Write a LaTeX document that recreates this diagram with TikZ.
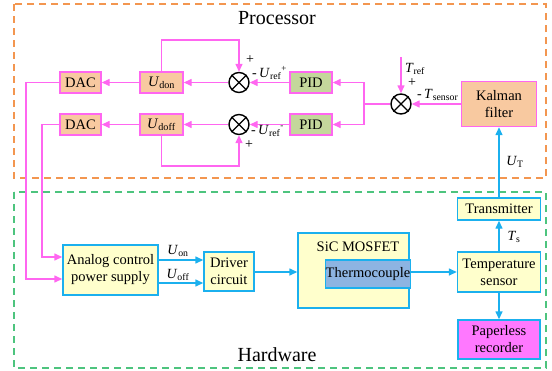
\documentclass[tikz,border=0pt]{standalone}
\usepackage{fontspec}
\setmainfont{Liberation Serif}
\usetikzlibrary{arrows.meta}
\definecolor{pk}{RGB}{255,102,240}
\definecolor{peach}{RGB}{248,201,160}
\definecolor{pidg}{RGB}{196,215,155}
\definecolor{ylw}{RGB}{255,255,204}
\definecolor{cy}{RGB}{27,176,238}
\definecolor{tcb}{RGB}{141,180,226}
\definecolor{mag}{RGB}{255,120,255}
\definecolor{odash}{RGB}{243,150,80}
\definecolor{gdash}{RGB}{77,196,126}
\newcommand{\sym}[2]{\textit{#1}$_{\mathrm{#2}}$}
\begin{document}
\begin{tikzpicture}[x=1pt,y=-1pt,
  txt/.style={font=\fontsize{14.5}{17}\selectfont},
  pbox/.style={txt,draw=pk,line width=1.4pt,inner sep=0pt,align=center},
  cbox/.style={txt,draw=cy,line width=1.4pt,inner sep=0pt,align=center},
  pl/.style={draw=pk,line width=1.4pt},
  pa/.style={pl,-{Triangle[length=8pt,width=7pt]}},
  cl/.style={draw=cy,line width=1.4pt},
  ca/.style={cl,-{Triangle[length=8pt,width=7pt]}},
  sumc/.style={circle,draw,line width=1.4pt,minimum size=20pt,inner sep=0pt},
  lbl/.style={font=\fontsize{14}{16}\selectfont,inner sep=0pt}]
\useasboundingbox (0,0) rectangle (552,370);
% frames
\draw[odash,line width=1.3pt,dash pattern=on 7pt off 5pt] (14,4) rectangle (546,178);
\draw[gdash,line width=1.3pt,dash pattern=on 7pt off 5pt] (14,192) rectangle (546,368);
\node[font=\fontsize{20}{22}\selectfont] (proc) at (277,18) {Processor};
\node[font=\fontsize{20}{22}\selectfont] (hw) at (277,355) {Hardware};
% processor blocks
\node[pbox,fill=peach,minimum width=41pt,minimum height=21pt] (dac1) at (80.5,82.5) {DAC};
\node[pbox,fill=peach,minimum width=41pt,minimum height=21pt] (dac2) at (80.5,124.5) {DAC};
\node[pbox,fill=peach,minimum width=43pt,minimum height=21pt] (udon) at (161.5,82.5) {\sym{U}{don}};
\node[pbox,fill=peach,minimum width=43pt,minimum height=21pt] (udoff) at (161.5,124.5) {\sym{U}{doff}};
\node[sumc] (o1) at (239,82.5) {};
\node[sumc] (o2) at (239,124.5) {};
\node[pbox,fill=pidg,minimum width=42pt,minimum height=21pt] (pid1) at (311,82.5) {PID};
\node[pbox,fill=pidg,minimum width=42pt,minimum height=21pt] (pid2) at (311,124.5) {PID};
\node[sumc] (o3) at (401,104) {};
\node[pbox,fill=peach,minimum width=75pt,minimum height=45pt] (kal) at (499,104) {Kalman\\filter};
\foreach \o in {o1,o2,o3}{
  \draw[line width=1.4pt] (\o.north west) -- (\o.south east) (\o.north east) -- (\o.south west);}
% hardware blocks
\node[cbox,fill=ylw,minimum width=95pt,minimum height=50pt] (ana) at (110.5,270) {Analog control\\power supply};
\node[cbox,fill=ylw,minimum width=50pt,minimum height=39pt] (drv) at (229,271.5) {Driver\\circuit};
\node[cbox,fill=ylw,minimum width=111pt,minimum height=75pt] (sic) at (353.5,270.5) {};
\node[txt,inner sep=0pt] (sictxt) at (358,247) {SiC MOSFET};
\node[cbox,fill=tcb,minimum width=82pt,minimum height=28pt] (tc) at (368,274) {Thermocouple};
\node[cbox,fill=ylw,minimum width=83pt,minimum height=40pt] (temp) at (499,272) {Temperature\\sensor};
\node[cbox,fill=ylw,minimum width=83pt,minimum height=22pt] (trans) at (499,209) {Transmitter};
\node[cbox,fill=mag,minimum width=82pt,minimum height=39pt] (pap) at (499,339.5) {Paperless\\recorder};
% coordinates
\coordinate (t1) at (239,40);
\coordinate (t2) at (239,166);
\coordinate (a1) at (26,279);
\coordinate (a2) at (42,257);
\coordinate (br) at (364,104);
\coordinate (tr) at (401,57);
\coordinate (yon) at (0,260);
\coordinate (yoff) at (0,283);
\coordinate (ym) at (0,272);
% pink connectors
\draw[pa] (o1.west) -- (udon.east);
\draw[pa] (udon.west) -- (dac1.east);
\draw[pa] (o2.west) -- (udoff.east);
\draw[pa] (udoff.west) -- (dac2.east);
\draw[pa] (udon.north) |- (t1) -- (o1.north);
\draw[pa] (udoff.south) |- (t2) -- (o2.south);
\draw[pa] (pid1.west) -- (o1.east);
\draw[pa] (pid2.west) -- (o2.east);
\draw[pl] (o3.west) -- (br);
\draw[pa] (br) |- (pid1.east);
\draw[pa] (br) |- (pid2.east);
\draw[pa] (kal.west) -- (o3.east);
\draw[pa] (tr) -- (o3.north);
\draw[pa] (dac1.west) -| (a1) -- (a1 -| ana.west);
\draw[pa] (dac2.west) -| (a2) -- (a2 -| ana.west);
% cyan connectors
\draw[ca] (ana.east |- yon) -- (drv.west |- yon);
\draw[ca] (ana.east |- yoff) -- (drv.west |- yoff);
\draw[ca] (drv.east |- ym) -- (sic.west |- ym);
\draw[ca] (tc.east |- ym) -- (temp.west |- ym);
\draw[ca] (temp.north) -- (trans.south);
\draw[ca] (temp.south) -- (pap.north);
\draw[ca] (trans.north) -- (kal.south);
% labels
\node[lbl] (p1) at (250,60) {+};
\node[lbl,anchor=west] (u1) at (252,73) {-\,\sym{U}{ref}\raisebox{6pt}{\fontsize{9}{9}\selectfont +}};
\node[lbl] (p2) at (249,145) {+};
\node[lbl,anchor=west] (u2) at (251,131) {-\,\sym{U}{ref}\raisebox{6pt}{\fontsize{9}{9}\selectfont -}};
\node[lbl] (tref) at (415,69) {\sym{T}{ref}};
\node[lbl] (p3) at (412,83) {+};
\node[lbl,anchor=west] (ts) at (417,95) {-\,\sym{T}{sensor}};
\node[lbl] (uon) at (178,251) {\sym{U}{on}};
\node[lbl] (uoff) at (178,275) {\sym{U}{off}};
\node[lbl] (tsl) at (514,237) {\sym{T}{s}};
\node[lbl] (ut) at (515,162) {\sym{U}{T}};
\end{tikzpicture}
\end{document}
